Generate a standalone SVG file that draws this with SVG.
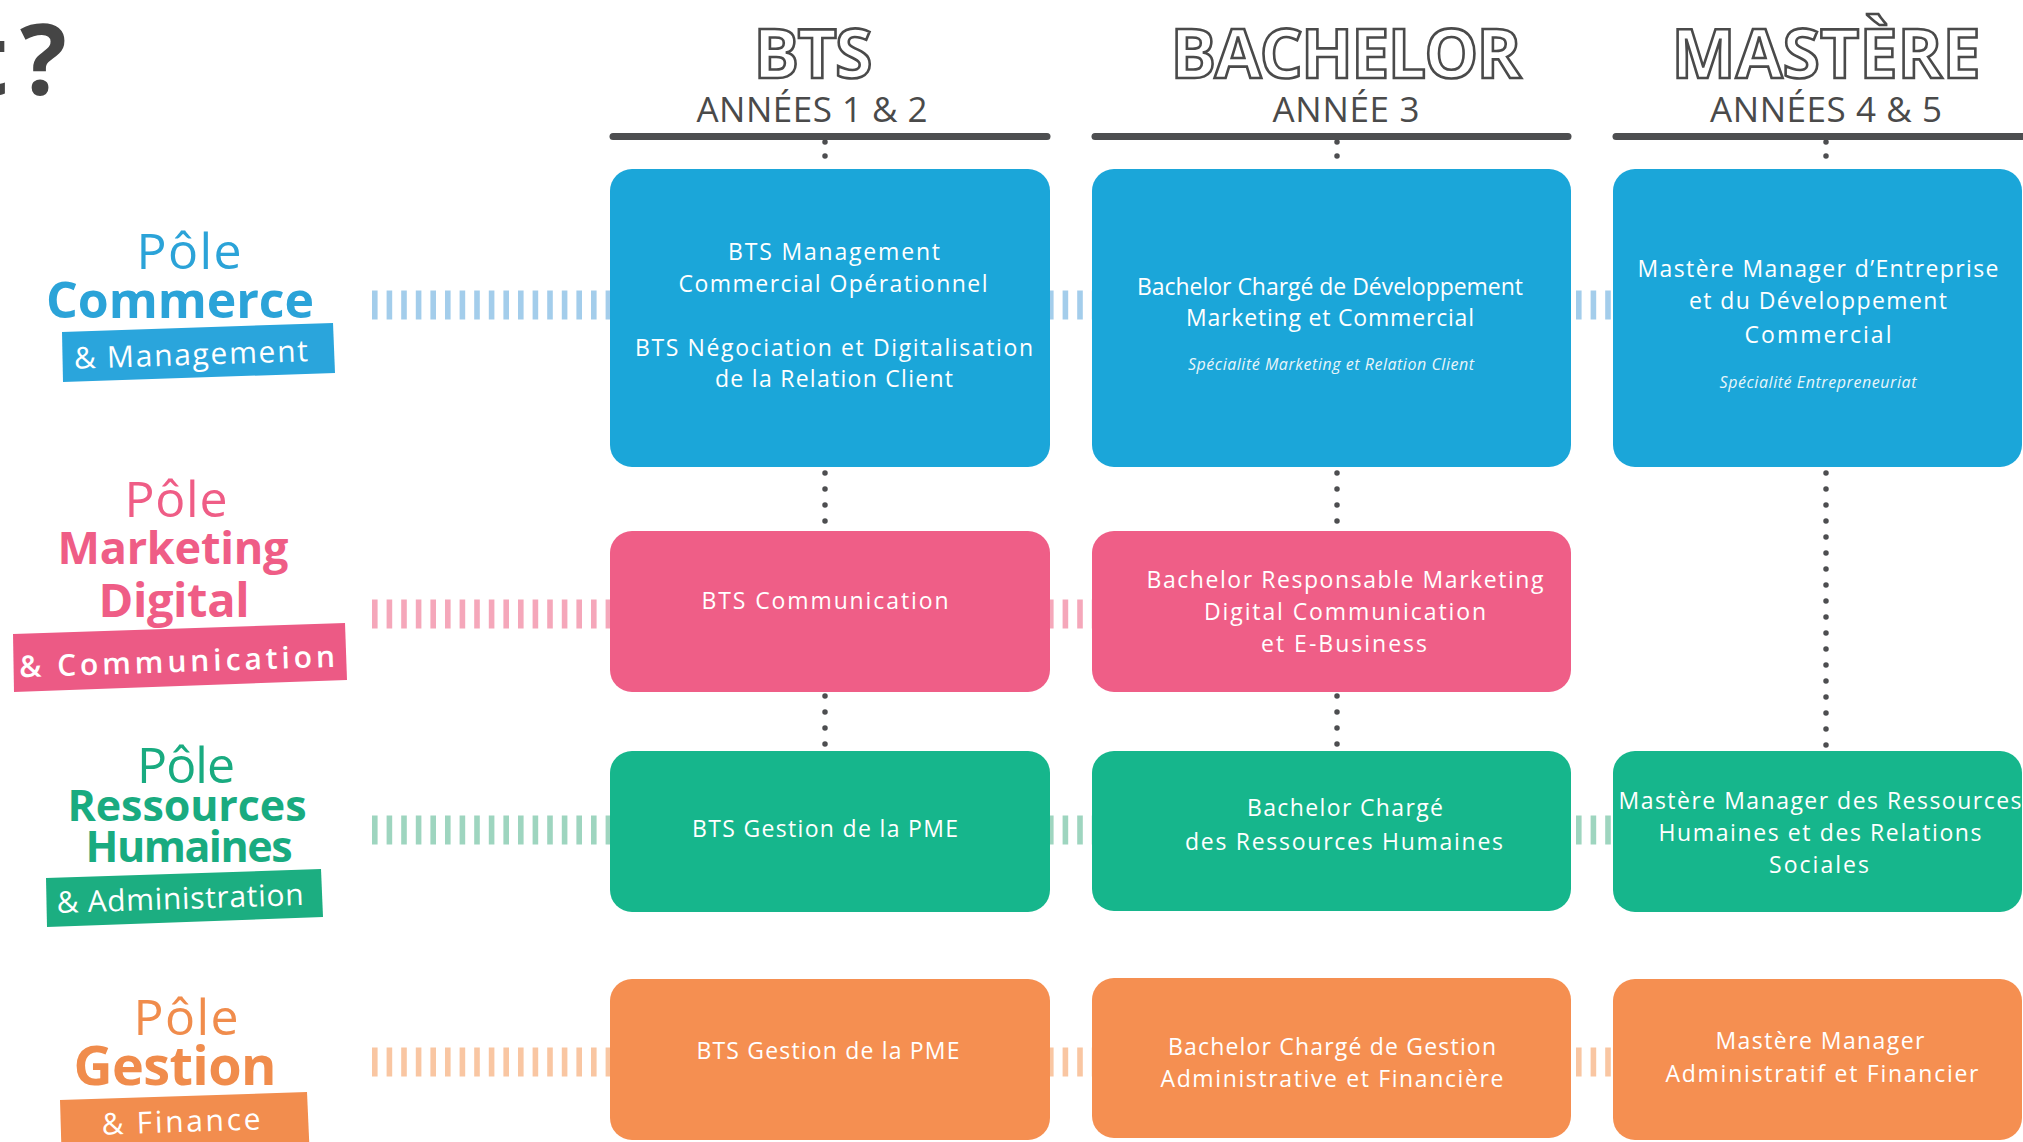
<svg xmlns="http://www.w3.org/2000/svg" width="2023" height="1142" viewBox="0 0 2023 1142">
<style>
text{font-family:"Open Sans","Noto Sans","Liberation Sans",sans-serif}
.hd{font-size:68px;font-weight:700;fill:#fff;stroke:#4a4a4a;stroke-width:2.6;text-anchor:middle}
.yr{font-size:35px;fill:#4a4a4a;text-anchor:middle}
.bar{stroke:#4d4e50;stroke-width:7;stroke-linecap:round}
.dots{stroke:#4d4e50;stroke-width:5.5;stroke-linecap:round;stroke-dasharray:0 16;fill:none}
.dots2{stroke:#4d4e50;stroke-width:5.5;stroke-linecap:round;stroke-dasharray:0 14;fill:none}
.lad{stroke-width:29;stroke-dasharray:5.6 9}
.bt{font-size:23px;fill:#fff;text-anchor:middle}
.it{font-size:16px;font-style:italic;fill:#fff;text-anchor:middle;opacity:.9}
.blue{fill:#1ba6d9}.pink{fill:#ef5e87}.green{fill:#16b68c}.orange{fill:#f58f51}
.pl{font-size:50px;text-anchor:middle}
.pb{font-weight:700;text-anchor:middle}
.tag{font-size:30px;fill:#fff;text-anchor:middle}
</style>

<g id="title-fragment" font-size="98" font-weight="700" fill="#454545">
<text x="8" y="95" text-anchor="end">t</text>
<text x="20" y="95">?</text>
</g>

<g id="headers">
<text class="hd" x="813" y="78" textLength="119">BTS</text>
<text class="yr" x="812" y="122" textLength="231">ANNÉES 1 &amp; 2</text>
<text class="hd" x="1346" y="78" textLength="351">BACHELOR</text>
<text class="yr" x="1346" y="122" textLength="147">ANNÉE 3</text>
<text class="hd" x="1826" y="78" textLength="309">MASTÈRE</text>
<text class="yr" x="1826" y="122" textLength="232">ANNÉES 4 &amp; 5</text>
<line class="bar" x1="613" y1="136.5" x2="1047" y2="136.5"/>
<line class="bar" x1="1095" y1="136.5" x2="1568" y2="136.5"/>
<line class="bar" x1="1616" y1="136.5" x2="2035" y2="136.5"/>
</g>

<g id="connectors">
<line class="dots2" x1="825" y1="142" x2="825" y2="168"/>
<line class="dots2" x1="1337" y1="142" x2="1337" y2="168"/>
<line class="dots2" x1="1826" y1="142" x2="1826" y2="168"/>
<line class="dots" x1="825" y1="473" x2="825" y2="522"/>
<line class="dots" x1="825" y1="696" x2="825" y2="745"/>
<line class="dots" x1="1337" y1="473" x2="1337" y2="522"/>
<line class="dots" x1="1337" y1="696" x2="1337" y2="745"/>
<line class="dots" x1="1826" y1="473" x2="1826" y2="746"/>
<line class="lad" stroke="#a3cdeb" x1="372" y1="305" x2="611" y2="305"/>
<line class="lad" stroke="#a3cdeb" x1="1048" y1="305" x2="1093" y2="305"/>
<line class="lad" stroke="#a3cdeb" x1="1576" y1="305" x2="1614" y2="305"/>
<line class="lad" stroke="#f5a7ba" x1="372" y1="614" x2="611" y2="614"/>
<line class="lad" stroke="#f5a7ba" x1="1048" y1="614" x2="1093" y2="614"/>
<line class="lad" stroke="#9ed5bf" x1="372" y1="830" x2="611" y2="830"/>
<line class="lad" stroke="#9ed5bf" x1="1048" y1="830" x2="1093" y2="830"/>
<line class="lad" stroke="#9ed5bf" x1="1576" y1="830" x2="1614" y2="830"/>
<line class="lad" stroke="#f9c6a2" x1="372" y1="1062" x2="611" y2="1062"/>
<line class="lad" stroke="#f9c6a2" x1="1048" y1="1062" x2="1093" y2="1062"/>
<line class="lad" stroke="#f9c6a2" x1="1576" y1="1062" x2="1614" y2="1062"/>
</g>

<g id="pole-commerce">
<text class="pl" x="189" y="269" fill="#2ba3d8" textLength="105">Pôle</text>
<text class="pb" x="180" y="318" font-size="50" fill="#2ba3d8" textLength="268">Commerce</text>
<polygon points="62,332 333,323 335,373 63,382" fill="#2aa5dc"/>
<text class="tag" x="191" y="365" font-size="31" transform="rotate(-1.9 191 357)" textLength="234">&amp; Management</text>
</g>

<g id="pole-marketing">
<text class="pl" x="176" y="517" font-size="48" fill="#ef5d86" textLength="103">Pôle</text>
<text class="pb" x="173" y="564" font-size="45" fill="#ef5d86" textLength="231">Marketing</text>
<text class="pb" x="174" y="617" font-size="47" fill="#ef5d86" textLength="151">Digital</text>
<polygon points="13,634 345,623 347,680 14,692" fill="#ec5a85"/>
<text class="tag" x="177" y="672" font-size="35" font-weight="600" transform="rotate(-1.9 177 657)" textLength="316">&amp; Communication</text>
</g>

<g id="pole-rh">
<text class="pl" x="186" y="783" font-size="48" fill="#19ab80" textLength="98">Pôle</text>
<text class="pb" x="187" y="821" font-size="43" fill="#19ab80" textLength="239">Ressources</text>
<text class="pb" x="189" y="862" font-size="43" fill="#19ab80" textLength="207">Humaines</text>
<polygon points="46,878 321,869 323,917 47,927" fill="#1cae81"/>
<text class="tag" x="180" y="909" transform="rotate(-1.9 180 898)" textLength="247">&amp; Administration</text>
</g>

<g id="pole-gestion">
<text class="pl" x="186" y="1035" font-size="52" fill="#f08c4c" textLength="105">Pôle</text>
<text class="pb" x="175" y="1085" font-size="54" fill="#f08c4c" textLength="203">Gestion</text>
<polygon points="60,1100 307,1092 310,1160 62,1168" fill="#f28d4e"/>
<text class="tag" x="181" y="1132" transform="rotate(-1.9 181 1120)" textLength="159">&amp; Finance</text>
</g>

<g id="bts-commerce">
<rect class="blue" x="610" y="169" width="440" height="298" rx="22"/>
<text class="bt" x="834" y="260" textLength="212">BTS Management</text>
<text class="bt" x="833" y="292" textLength="309">Commercial Opérationnel</text>
<text class="bt" x="834" y="356" textLength="398">BTS Négociation et Digitalisation</text>
<text class="bt" x="834" y="387" textLength="238">de la Relation Client</text>
</g>
<g id="bachelor-commerce">
<rect class="blue" x="1092" y="169" width="479" height="298" rx="22"/>
<text class="bt" x="1330" y="295" textLength="386">Bachelor Chargé de Développement</text>
<text class="bt" x="1330" y="326" textLength="288">Marketing et Commercial</text>
<text class="it" x="1331" y="370" textLength="286">Spécialité Marketing et Relation Client</text>
</g>
<g id="mastere-commerce">
<rect class="blue" x="1613" y="169" width="409" height="298" rx="22"/>
<text class="bt" x="1818" y="277" textLength="361">Mastère Manager d’Entreprise</text>
<text class="bt" x="1818" y="309" textLength="258">et du Développement</text>
<text class="bt" x="1818" y="343" textLength="147">Commercial</text>
<text class="it" x="1818" y="388" textLength="197">Spécialité Entrepreneuriat</text>
</g>

<g id="bts-marketing">
<rect class="pink" x="610" y="531" width="440" height="161" rx="22"/>
<text class="bt" x="825" y="609" textLength="247">BTS Communication</text>
</g>
<g id="bachelor-marketing">
<rect class="pink" x="1092" y="531" width="479" height="161" rx="22"/>
<text class="bt" x="1345" y="588" textLength="397">Bachelor Responsable Marketing</text>
<text class="bt" x="1345" y="620" textLength="282">Digital Communication</text>
<text class="bt" x="1344" y="652" textLength="166">et E-Business</text>
</g>

<g id="bts-rh">
<rect class="green" x="610" y="751" width="440" height="161" rx="22"/>
<text class="bt" x="825" y="837" textLength="266">BTS Gestion de la PME</text>
</g>
<g id="bachelor-rh">
<rect class="green" x="1092" y="751" width="479" height="160" rx="22"/>
<text class="bt" x="1345" y="816" textLength="196">Bachelor Chargé</text>
<text class="bt" x="1344" y="850" textLength="318">des Ressources Humaines</text>
</g>
<g id="mastere-rh">
<rect class="green" x="1613" y="751" width="409" height="161" rx="22"/>
<text class="bt" x="1820" y="809" textLength="403">Mastère Manager des Ressources</text>
<text class="bt" x="1820" y="841" textLength="323">Humaines et des Relations</text>
<text class="bt" x="1819" y="873" textLength="100">Sociales</text>
</g>

<g id="bts-gestion">
<rect class="orange" x="610" y="979" width="440" height="161" rx="22"/>
<text class="bt" x="828" y="1059" textLength="263">BTS Gestion de la PME</text>
</g>
<g id="bachelor-gestion">
<rect class="orange" x="1092" y="978" width="479" height="160" rx="22"/>
<text class="bt" x="1332" y="1055" textLength="328">Bachelor Chargé de Gestion</text>
<text class="bt" x="1332" y="1087" textLength="343">Administrative et Financière</text>
</g>
<g id="mastere-gestion">
<rect class="orange" x="1613" y="979" width="409" height="161" rx="22"/>
<text class="bt" x="1820" y="1049" textLength="209">Mastère Manager</text>
<text class="bt" x="1822" y="1082" textLength="313">Administratif et Financier</text>
</g>
</svg>
